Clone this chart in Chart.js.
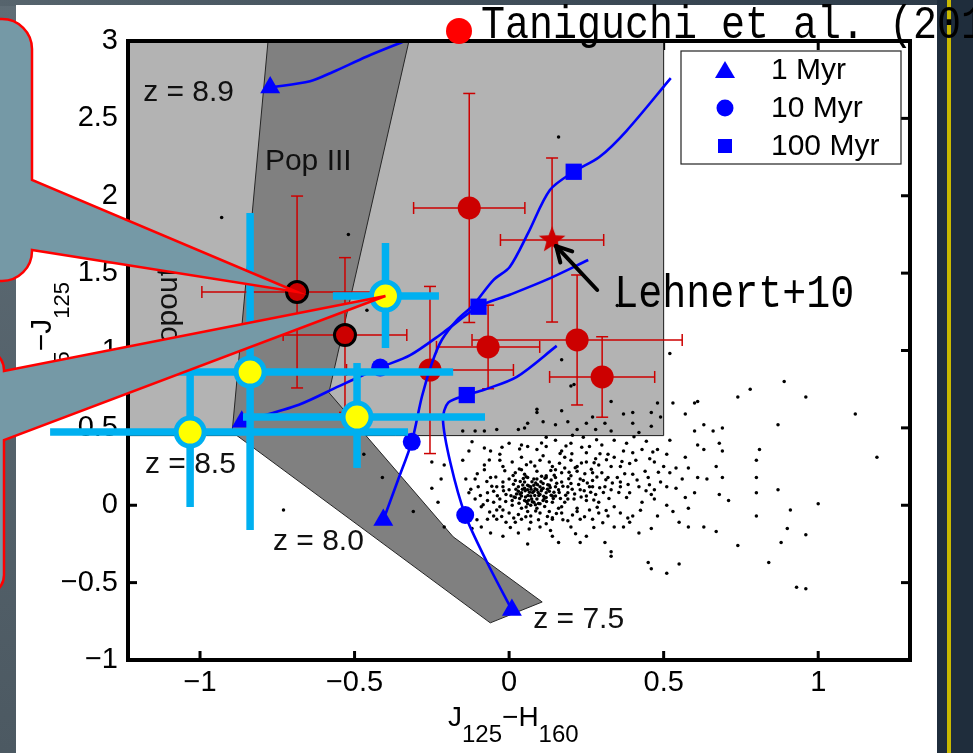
<!DOCTYPE html>
<html>
<head>
<meta charset="utf-8">
<script src="https://cdn.jsdelivr.net/npm/chart.js@4.4.1/dist/chart.umd.min.js"></script>
<style>
  html, body { margin: 0; padding: 0; overflow: hidden; background: #fff; }
  canvas { display: block; }
</style>
</head>
<body>
<canvas id="myChart" width="973" height="753"></canvas>
<script>
// axis ticks
const xTicks = [-1, -0.5, 0, 0.5, 1];
const yTicks = [-1, -0.5, 0, 0.5, 1, 1.5, 2, 2.5, 3];

// shaded selection regions
const dropoutBox = [[-1.233, 0.45], [0.5, 0.45], [0.5, 3], [-1.233, 3], [-1.233, 0.45]];
const popIIIBand = [[-0.78, 3], [-0.324, 3], [-0.583, 0.728], [-0.181, -0.204], [0.107, -0.625],
    [-0.061, -0.76], [-0.896, 0.473], [-0.78, 3]];

// model tracks (blue)
const trackZ89 = [[-0.773, 2.70], [-0.644, 2.74], [-0.57, 2.80], [-0.46, 2.90], [-0.337, 3.0]];
const trackZ85 = [[-0.865, 0.54], [-0.68, 0.65], [-0.55, 0.77], [-0.417, 0.89], [-0.32, 0.97],
    [-0.214, 1.115], [-0.099, 1.283], [0.002, 1.36], [0.12, 1.456], [0.256, 1.585]];
const trackZ80 = [[-0.407, -0.095], [-0.36, 0.16], [-0.315, 0.41], [-0.282, 0.703], [-0.25, 0.917],
    [-0.218, 1.068], [-0.169, 1.197], [-0.116, 1.294], [-0.051, 1.455], [0.002, 1.54], [0.061, 1.757],
    [0.132, 2.037], [0.209, 2.155], [0.292, 2.25], [0.38, 2.42], [0.523, 2.76]];
const trackZ75 = [[0.009, -0.677], [-0.071, -0.37], [-0.142, -0.063], [-0.19, 0.275], [-0.214, 0.553],
    [-0.197, 0.663], [-0.137, 0.712], [-0.083, 0.745], [0.025, 0.83], [0.154, 1.03]];
const age1Myr = [[-0.773, 2.70], [-0.865, 0.54], [-0.407, -0.095], [0.009, -0.677]];
const age10Myr = [[-0.417, 0.89], [-0.315, 0.41], [-0.142, -0.063]];
const age100Myr = [[-0.099, 1.283], [0.209, 2.155], [-0.137, 0.712]];

// red candidates with error bars
const redPts = [[-0.129, 1.921], [0.22, 1.068], [0.301, 0.829], [-0.068, 1.023], [-0.256, 0.874]];
const redXErr = [0.18, 0.34, 0.17, 0.167, 0.27];
const redYErr = [0.74, 0.42, 0.26, 0.27, 0.54];
const ringPts = [[-0.686, 1.378], [-0.531, 1.10]];
const ringXErr = [0.308, 0.2];
const ringYErr = [0.62, 0.5];
const lehnertPt = [[0.139, 1.714]];
const lehnertXErr = [0.167];
const lehnertYErr = [0.53];

// Taniguchi et al. objects (yellow, cyan ranges)
const newPts = [[-0.40, 1.352], [-0.838, 0.861], [-1.032, 0.473], [-0.492, 0.570]];
const newXLo = [-0.57, -1.47, -1.485, -0.861];
const newXHi = [-0.227, -0.181, -0.327, -0.078];
const newYLo = [1.016, -0.16, -0.011, 0.241];
const newYHi = [1.695, 1.889, 0.855, 0.919];

// field galaxies (black dots)
const fieldGalaxies = [
    [0.89, 0.80], [0.78, 0.75], [0.74, 0.70], [0.96, 0.70], [1.12, 0.59], [0.87, 0.52], [0.69, 0.50], [0.63, 0.52],
    [0.61, 0.67], [0.57, 0.59], [0.53, 0.66], [0.81, 0.36], [0.80, 0.29], [1.19, 0.31], [0.80, 0.18], [0.80, 0.08],
    [0.87, 0.10], [1.0, 0.01], [0.91, -0.03], [0.80, -0.07], [0.90, -0.15], [0.96, -0.19], [0.88, -0.24], [0.74, -0.26],
    [0.84, -0.37], [0.93, -0.53], [0.96, -0.54], [0.45, -0.37], [0.46, -0.41], [0.51, -0.44], [0.55, -0.38], [0.33, -0.30],
    [0.33, -0.33], [0.67, -0.17], [0.63, -0.14], [0.71, 0.03], [0.68, 0.07], [0.69, 0.18], [0.67, 0.25], [0.69, 0.35],
    [0.68, 0.40], [0.66, 0.48], [0.60, 0.48], [0.61, 0.39], [0.63, 0.36], [0.57, 0.31], [0.54, 0.24], [0.58, 0.24],
    [0.61, 0.18], [0.64, 0.17], [0.56, 0.17], [0.54, 0.11], [0.60, 0.08], [0.57, 0.05], [0.58, -0.02], [0.53, -0.04],
    [0.51, 0.00], [0.49, 0.15], [0.51, 0.12], [0.52, 0.21], [0.51, 0.33], [0.48, 0.36], [0.47, 0.28], [0.455, 0.30],
    [0.45, 0.18], [0.46, 0.07], [0.47, 0.04], [0.48, -0.07], [0.55, -0.11], [0.58, -0.14], [0.46, -0.15], [0.42, -0.18],
    [0.39, -0.11], [0.40, -0.07], [0.36, -0.05], [0.37, -0.14], [0.34, -0.14], [0.31, -0.24], [0.25, -0.20], [0.23, -0.24],
    [0.16, -0.24], [0.06, -0.25], [0.14, -0.20], [0.03, -0.18], [-0.02, -0.20], [-0.06, -0.18], [-0.09, -0.14], [-0.12, -0.15],
    [-0.07, -0.09], [-0.09, -0.01], [-0.13, 0.08], [-0.14, 0.17], [-0.15, 0.29], [-0.13, 0.35], [-0.12, 0.41], [-0.21, 0.26],
    [-0.25, 0.28], [-0.23, 0.02], [-0.25, 0.11], [-0.22, 0.17], [-0.11, 0.17], [-0.08, 0.23], [-0.06, 0.35], [-0.08, 0.37],
    [-0.03, 0.29], [0.00, 0.40], [0.04, 0.39], [0.06, 0.38], [0.09, 0.36], [0.12, 0.38], [0.12, 0.44], [0.15, 0.42],
    [0.17, 0.35], [0.20, 0.40], [0.24, 0.44], [0.26, 0.38], [0.30, 0.39], [0.34, 0.42], [0.38, 0.40], [0.37, 0.35],
    [0.34, 0.31], [0.32, 0.33], [0.36, 0.25], [0.39, 0.27], [0.41, 0.29], [0.43, 0.36], [0.40, 0.20], [0.42, 0.12],
    [0.39, 0.08], [0.36, 0.15], [0.33, 0.10], [0.32, 0.18], [0.27, 0.21], [0.29, 0.26], [0.25, 0.28], [0.22, 0.25],
    [0.20, 0.29], [0.17, 0.21], [0.23, 0.17], [0.27, 0.12], [0.25, 0.06], [0.29, 0.02], [0.34, -0.01], [0.32, -0.07],
    [0.27, -0.09], [0.23, -0.09], [0.20, -0.14], [0.17, -0.05], [0.22, -0.02], [0.26, -0.03], [0.19, 0.04], [0.14, -0.09],
    [0.10, -0.14], [0.07, -0.11], [0.04, -0.09], [-0.01, -0.11], [-0.04, -0.09], [-0.02, -0.03], [-0.05, 0.02], [-0.07, 0.08],
    [-0.04, 0.12], [-0.06, 0.18], [-0.02, 0.25], [0.01, 0.28], [0.04, 0.23], [0.07, 0.28], [0.10, 0.29], [0.13, 0.28],
    [0.15, 0.23], [0.12, 0.18], [0.09, 0.17], [0.06, 0.18], [0.00, 0.17], [-0.02, 0.12], [0.15, 0.12], [0.19, 0.12],
    [0.14, 0.06], [0.17, -0.01],
    [0.02, 0.05], [0.04, 0.08], [0.05, 0.03], [0.06, 0.10], [0.07, 0.06], [0.08, 0.09], [0.09, 0.04], [0.10, 0.07],
    [0.11, 0.11], [0.03, 0.12], [0.05, 0.15], [0.08, 0.13], [0.10, 0.01], [0.07, 0.00], [0.04, -0.02], [0.01, 0.00],
    [-0.01, 0.07], [0.00, 0.10], [0.12, 0.05], [0.13, 0.09], [0.14, 0.02], [0.06, -0.04], [0.09, -0.02], [0.11, 0.14],
    [0.02, 0.16], [-0.03, 0.04], [0.13, -0.04], [0.15, 0.06], [0.16, 0.10], [0.08, 0.17], [0.12, 0.19], [0.05, 0.20],
    [0.17, 0.15], [0.19, 0.08], [0.20, 0.14], [0.18, 0.02], [0.03, -0.06], [0.00, -0.05], [-0.04, -0.03], [0.07, -0.07],
    [0.10, -0.05], [0.14, -0.08], [0.16, -0.02], [0.21, 0.04], [0.23, 0.10], [0.24, 0.16], [0.22, 0.22], [0.18, 0.24],
    [0.14, 0.25], [0.09, 0.22], [0.02, 0.21], [-0.02, 0.15], [-0.05, 0.09], [-0.07, 0.03], [-0.03, -0.01], [0.06, 0.13],
    [0.09, 0.10], [0.04, 0.06], [0.11, 0.03], [0.07, 0.12], [0.13, 0.13], [0.01, 0.03], [0.08, 0.02], [0.12, 0.08],
    [0.03, 0.09], [0.06, 0.01], [0.10, 0.12], [0.05, 0.11], [0.15, 0.18], [0.20, 0.19], [0.26, 0.12], [0.28, 0.07],
    [0.27, 0.16], [0.30, 0.21], [0.31, 0.12], [0.25, 0.03], [0.29, -0.05], [0.22, -0.04], [0.35, 0.18], [0.33, 0.25],
    [0.28, 0.30], [0.25, 0.34], [0.18, 0.31], [0.11, 0.32], [0.04, 0.31], [-0.03, 0.33], [-0.08, 0.26], [-0.10, 0.12],
    [-0.11, 0.04], [-0.05, -0.07], [0.02, -0.11], [0.12, -0.12], [0.19, -0.10], [0.38, 0.05], [0.36, 0.12], [0.44, 0.22],
    [0.40, 0.34], [0.47, 0.10], [0.43, 0.02], [0.50, 0.25], [0.52, 0.42],
    [0.035, 0.072], [0.052, 0.094], [0.073, 0.041], [0.094, 0.083], [0.112, 0.058], [0.133, 0.114], [0.084, 0.107], [0.061, 0.063],
    [0.044, 0.131], [0.103, 0.152], [0.121, 0.024], [0.022, 0.104], [0.006, 0.061], [0.014, 0.135], [0.032, 0.013], [0.055, -0.012],
    [0.086, -0.037], [0.115, -0.008], [0.143, 0.044], [0.162, 0.083], [0.154, 0.142], [0.136, 0.163], [0.105, 0.187], [0.074, 0.152],
    [0.046, 0.173], [0.013, 0.192], [-0.018, 0.093], [-0.011, 0.024], [-0.038, 0.062], [-0.056, 0.123], [0.066, 0.084], [0.083, 0.063],
    [0.104, 0.093], [0.071, 0.104], [0.053, 0.054], [0.092, 0.133], [0.124, 0.103], [0.034, 0.043], [0.063, 0.032], [0.095, 0.012],
    [0.183, 0.064], [0.204, 0.103], [0.225, 0.134], [0.193, 0.172], [0.174, 0.123], [0.212, 0.073], [0.243, 0.094], [0.233, 0.053],
    [0.264, 0.084], [0.253, 0.143], [0.284, 0.183], [0.293, 0.113], [0.245, 0.204], [0.214, 0.243], [0.266, 0.232], [0.313, 0.164],
    [0.305, 0.083], [0.274, 0.034], [0.323, 0.043], [0.334, 0.143], [0.163, 0.272], [0.135, 0.224], [0.194, 0.213], [0.234, 0.273],
    [0.275, 0.274], [0.203, 0.332], [0.165, 0.334], [0.083, 0.253], [0.056, 0.262], [0.033, 0.234], [-0.014, 0.223], [-0.043, 0.183],
    [-0.072, 0.154], [-0.093, 0.063], [-0.084, 0.004], [-0.063, -0.043], [-0.024, -0.072], [0.015, -0.083], [0.054, -0.074], [0.095, -0.093],
    [0.124, -0.072], [0.153, -0.053], [0.174, -0.094], [0.205, -0.063], [0.244, -0.074], [0.285, -0.013], [0.314, -0.034], [0.355, 0.083],
    [0.374, 0.203], [0.385, 0.134], [0.414, 0.163], [0.443, 0.094], [0.425, -0.033], [0.384, -0.083], [0.365, 0.283], [0.315, 0.294],
    [0.294, 0.332], [0.235, 0.374], [0.184, 0.383], [0.105, 0.403], [0.034, 0.364], [-0.023, 0.374], [-0.064, 0.293], [-0.103, 0.204],
    [-0.124, 0.103], [-0.133, -0.043], [-0.104, -0.093], [0.004, -0.143], [0.065, -0.154], [0.134, -0.163], [0.215, -0.184], [0.274, -0.143],
    [0.303, -0.113], [0.454, 0.133], [0.483, 0.213], [0.465, 0.344], [0.444, 0.413], [0.404, 0.443], [0.283, 0.424], [0.205, 0.453],
    [0.076, 0.083], [0.043, 0.104], [0.114, 0.043], [0.085, 0.004], [0.024, 0.073], [0.125, 0.133], [0.064, 0.124], [0.106, 0.103],
    [0.145, 0.084], [0.056, 0.024], [0.096, 0.063], [0.075, 0.023], [0.036, 0.153], [0.136, 0.064], [0.166, 0.043], [0.016, 0.054],
    [0.086, 0.144], [0.116, 0.174], [0.055, 0.184], [0.146, 0.194],
    [-0.15, 0.48], [-0.11, 0.48], [-0.08, 0.48], [-0.04, 0.49], [0.03, 0.49], [0.05, 0.50], [0.06, 0.53], [0.09, 0.62],
    [0.09, 0.60], [0.11, 0.54], [0.15, 0.52], [0.17, 0.61], [0.19, 0.54], [0.22, 0.49], [0.25, 0.53], [0.27, 0.57],
    [0.28, 0.49], [0.31, 0.53], [0.33, 0.67], [0.33, 0.48], [0.37, 0.59], [0.40, 0.53], [0.40, 0.60], [0.42, 0.47],
    [0.46, 0.60], [0.46, 0.51], [0.48, 0.66], [0.49, 0.57], [0.20, 0.77], [0.21, 0.78], [0.17, 0.94], [0.60, 0.66],
    [0.35, 1.29], [0.52, 0.98], [0.16, 2.38], [-0.93, 1.86], [-0.52, 1.75], [-0.46, 1.26], [-0.73, -0.03], [-0.41, 0.18],
    [-0.47, 0.33], [-0.31, -0.04], [-0.21, -0.14]
];

// text annotations [text, x, y]
const zLabels = [['z = 8.9', -1.184, 2.612], ['z = 8.5', -1.178, 0.206], ['z = 8.0', -0.764, -0.289], ['z = 7.5', 0.078, -0.793]];
const popLabel = ['Pop III', -0.79, 2.166];
const dropLabel = ['Dropout', -1.074, 1.533];
const lehnertLabel = ['Lehnert+10', 0.34, 1.281];
const lehnertArrow = [[0.285, 1.391], [0.152, 1.675]];
const legendItems = ['1 Myr', '10 Myr', '100 Myr'];

const SANS = "'Liberation Sans', Arial, sans-serif";
const MONO = "'Liberation Mono', 'DejaVu Sans Mono', monospace";
const pts = arr => arr.map(p => ({ x: p[0], y: p[1] }));
const fmt = v => (v < 0 ? '\u2212' + String(-v) : String(v));

function makeStar(r, inner, color) {
    const c = document.createElement('canvas');
    c.width = c.height = 2 * r + 2;
    const g = c.getContext('2d');
    g.fillStyle = color;
    g.beginPath();
    for (let i = 0; i < 10; i++) {
        const a = -Math.PI / 2 + i * Math.PI / 5;
        const rr = i % 2 ? inner : r;
        g.lineTo(r + 1 + rr * Math.cos(a), r + 1 + rr * Math.sin(a));
    }
    g.closePath();
    g.fill();
    return c;
}
const starImg = makeStar(14, 6, '#cc0000');

function line(ctx, x0, y0, x1, y1) {
    ctx.beginPath();
    ctx.moveTo(x0, y0);
    ctx.lineTo(x1, y1);
    ctx.stroke();
}

function drawRedErrors(chart, ds) {
    const ctx = chart.ctx, xs = chart.scales.x, ys = chart.scales.y;
    ctx.save();
    ctx.strokeStyle = '#cc0000';
    ctx.lineWidth = 1.5;
    ds.data.forEach((p, i) => {
        const x = xs.getPixelForValue(p.x), y = ys.getPixelForValue(p.y);
        const xl = xs.getPixelForValue(p.x - ds.errX[i]), xr = xs.getPixelForValue(p.x + ds.errX[i]);
        const yt = ys.getPixelForValue(p.y + ds.errY[i]), yb = ys.getPixelForValue(p.y - ds.errY[i]);
        line(ctx, xl, y, xr, y);
        line(ctx, x, yt, x, yb);
        line(ctx, xl, y - 6, xl, y + 6);
        line(ctx, xr, y - 6, xr, y + 6);
        line(ctx, x - 6, yt, x + 6, yt);
        line(ctx, x - 6, yb, x + 6, yb);
    });
    ctx.restore();
}

function drawCyan(chart) {
    const ctx = chart.ctx, xs = chart.scales.x, ys = chart.scales.y;
    ctx.save();
    ctx.strokeStyle = '#00b0f0';
    ctx.lineWidth = 7.5;
    newPts.forEach((p, i) => {
        const x = xs.getPixelForValue(p[0]), y = ys.getPixelForValue(p[1]);
        line(ctx, xs.getPixelForValue(newXLo[i]), y, xs.getPixelForValue(newXHi[i]), y);
        line(ctx, x, ys.getPixelForValue(newYHi[i]), x, ys.getPixelForValue(newYLo[i]));
    });
    ctx.restore();
}

function drawFrame(chart) {
    const ctx = chart.ctx, a = chart.chartArea;
    ctx.save();
    ctx.strokeStyle = '#000';
    ctx.lineWidth = 4;
    ctx.strokeRect(a.left, a.top, a.right - a.left, a.bottom - a.top);
    ctx.restore();
}

function drawTicks(chart) {
    const ctx = chart.ctx, a = chart.chartArea, xs = chart.scales.x, ys = chart.scales.y;
    ctx.save();
    ctx.strokeStyle = '#000';
    ctx.lineWidth = 3;
    xTicks.forEach(v => {
        const x = xs.getPixelForValue(v);
        line(ctx, x, a.bottom, x, a.bottom - 9);
        line(ctx, x, a.top, x, a.top + 9);
    });
    yTicks.forEach(v => {
        const y = ys.getPixelForValue(v);
        line(ctx, a.left, y, a.left + 9, y);
        line(ctx, a.right, y, a.right - 9, y);
    });
    ctx.restore();
}

function drawRegionLabels(chart) {
    const ctx = chart.ctx, xs = chart.scales.x, ys = chart.scales.y;
    ctx.save();
    ctx.fillStyle = '#111';
    ctx.font = '30px ' + SANS;
    ctx.textBaseline = 'alphabetic';
    ctx.textAlign = 'left';
    zLabels.concat([popLabel]).forEach(t => {
        ctx.fillText(t[0], xs.getPixelForValue(t[1]), ys.getPixelForValue(t[2]));
    });
    ctx.translate(xs.getPixelForValue(dropLabel[1]), ys.getPixelForValue(dropLabel[2]));
    ctx.rotate(-Math.PI / 2);
    ctx.textAlign = 'right';
    ctx.fillText(dropLabel[0], 0, 0);
    ctx.restore();
}

function drawLegend(chart) {
    const ctx = chart.ctx, a = chart.chartArea;
    const L = a.right - 229, T = a.top + 10, W = 220, H = 113;
    ctx.save();
    ctx.fillStyle = '#fff';
    ctx.fillRect(L, T, W, H);
    ctx.strokeStyle = '#222';
    ctx.lineWidth = 1.2;
    ctx.strokeRect(L, T, W, H);
    ctx.fillStyle = '#0000ff';
    const mx = L + 44;
    let cy = T + 20;
    ctx.beginPath();
    ctx.moveTo(mx, cy - 10);
    ctx.lineTo(mx + 10, cy + 7);
    ctx.lineTo(mx - 10, cy + 7);
    ctx.closePath();
    ctx.fill();
    cy = T + 57;
    ctx.beginPath();
    ctx.arc(mx, cy, 8.5, 0, Math.PI * 2);
    ctx.fill();
    cy = T + 95;
    ctx.fillRect(mx - 7, cy - 7, 14, 14);
    ctx.fillStyle = '#000';
    ctx.font = '30px ' + SANS;
    ctx.textBaseline = 'middle';
    ctx.textAlign = 'left';
    legendItems.forEach((t, i) => ctx.fillText(t, L + 90, T + 20 + i * 38));
    ctx.restore();
}

function drawLehnert(chart) {
    const ctx = chart.ctx, xs = chart.scales.x, ys = chart.scales.y;
    const x0 = xs.getPixelForValue(lehnertArrow[0][0]), y0 = ys.getPixelForValue(lehnertArrow[0][1]);
    const x1 = xs.getPixelForValue(lehnertArrow[1][0]), y1 = ys.getPixelForValue(lehnertArrow[1][1]);
    ctx.save();
    ctx.strokeStyle = '#000';
    ctx.lineWidth = 4;
    ctx.lineCap = 'round';
    line(ctx, x0, y0, x1, y1);
    const ang = Math.atan2(y1 - y0, x1 - x0);
    [0.5, -0.5].forEach(d => {
        line(ctx, x1, y1, x1 - 17 * Math.cos(ang + d), y1 - 17 * Math.sin(ang + d));
    });
    ctx.fillStyle = '#000';
    ctx.font = '40px ' + MONO;
    ctx.textBaseline = 'alphabetic';
    ctx.translate(xs.getPixelForValue(lehnertLabel[1]), ys.getPixelForValue(lehnertLabel[2]));
    ctx.scale(1, 1.15);
    ctx.fillText(lehnertLabel[0], 0, 0);
    ctx.restore();
}

function drawRich(ctx, parts, x, y) {
    // parts: [text, fontSize, baselineShift]
    let cx = x;
    parts.forEach(p => {
        ctx.font = p[1] + 'px ' + SANS;
        ctx.fillText(p[0], cx, y + p[2]);
        cx += ctx.measureText(p[0]).width;
    });
}

function partsWidth(ctx, parts) {
    let w = 0;
    parts.forEach(p => {
        ctx.font = p[1] + 'px ' + SANS;
        w += ctx.measureText(p[0]).width;
    });
    return w;
}

function drawAxisTitles(chart) {
    const ctx = chart.ctx, a = chart.chartArea;
    ctx.save();
    ctx.fillStyle = '#000';
    ctx.textBaseline = 'alphabetic';
    ctx.textAlign = 'left';
    const xParts = [['J', 28, 0], ['125', 24, 16], ['\u2212H', 28, 0], ['160', 24, 16]];
    drawRich(ctx, xParts, 448, a.bottom + 66);
    const yParts = [['Y', 30, 0], ['105', 22, 18], ['\u2212J', 30, 0], ['125', 22, 18]];
    const w = partsWidth(ctx, yParts);
    ctx.translate(51, 345);
    ctx.rotate(-Math.PI / 2);
    drawRich(ctx, yParts, -w / 2, 0);
    ctx.restore();
}

function bubble(ctx, x0, x1, y0, y1, r, baseTop, baseBot, tx, ty) {
    ctx.beginPath();
    ctx.moveTo(x0, y0);
    ctx.lineTo(x1 - r, y0);
    ctx.arcTo(x1, y0, x1, y0 + r, r);
    ctx.lineTo(x1, baseTop);
    ctx.lineTo(tx, ty);
    ctx.lineTo(x1, baseBot);
    ctx.arcTo(x1, y1, x1 - r, y1, r);
    ctx.lineTo(x0, y1);
    ctx.closePath();
    ctx.fillStyle = '#7599a6';
    ctx.fill();
    ctx.strokeStyle = '#ff0000';
    ctx.lineWidth = 2.5;
    ctx.stroke();
}

const slidePlugin = {
    id: 'slide',
    beforeDraw(chart) {
        const ctx = chart.ctx, W = chart.width, H = chart.height;
        ctx.save();
        const lg = ctx.createLinearGradient(0, 0, 0, H);
        lg.addColorStop(0, '#5f6d76');
        lg.addColorStop(1, '#4c5962');
        ctx.fillStyle = lg;
        ctx.fillRect(0, 0, W, H);
        const tg = ctx.createLinearGradient(0, 0, W, 0);
        tg.addColorStop(0, '#56646d');
        tg.addColorStop(1, '#2b3947');
        ctx.fillStyle = tg;
        ctx.fillRect(0, 0, W, 6);
        ctx.fillStyle = '#1f2d3c';
        ctx.fillRect(937, 0, W - 937, H);
        ctx.fillStyle = '#c8b800';
        ctx.fillRect(947, 0, 4, H);
        ctx.fillStyle = '#fff';
        ctx.fillRect(16, 5, 921, H - 5);
        ctx.restore();
    },
    beforeDatasetsDraw(chart) {
        drawTicks(chart);
    },
    beforeDatasetDraw(chart, args) {
        const ds = chart.data.datasets[args.index];
        if (ds.errX) drawRedErrors(chart, ds);
        if (ds.label === 'Taniguchi') {
            drawFrame(chart);
            drawCyan(chart);
        }
    },
    afterDatasetDraw(chart, args) {
        const ds = chart.data.datasets[args.index];
        if (ds.label === 'Pop III') drawRegionLabels(chart);
    },
    afterDatasetsDraw(chart) {
        drawLegend(chart);
        drawLehnert(chart);
    },
    afterDraw(chart) {
        const ctx = chart.ctx, xs = chart.scales.x, ys = chart.scales.y;
        drawAxisTitles(chart);
        ctx.save();
        bubble(ctx, -40, 32, 19, 281, 30, 180, 250,
            xs.getPixelForValue(ringPts[0][0]), ys.getPixelForValue(ringPts[0][1]));
        bubble(ctx, -60, 4, 350, 595, 20, 371, 440,
            xs.getPixelForValue(newPts[0][0]), ys.getPixelForValue(newPts[0][1]));
        // title
        ctx.fillStyle = '#ff0000';
        ctx.beginPath();
        ctx.arc(459, 31, 13, 0, Math.PI * 2);
        ctx.fill();
        ctx.fillStyle = '#000';
        ctx.font = '40px ' + MONO;
        ctx.textBaseline = 'alphabetic';
        ctx.translate(481, 38);
        ctx.scale(1, 1.15);
        ctx.fillText('Taniguchi et al. (2014)', 0, 0);
        ctx.restore();
    }
};

const trackStyle = {
    type: 'line', borderColor: '#0000ff', borderWidth: 2.6, pointRadius: 0,
    tension: 0.3, fill: false, order: 70
};

const config = {
    type: 'scatter',
    data: {
        datasets: [
            { type: 'line', label: 'Dropout box', data: pts(dropoutBox), fill: 'shape', backgroundColor: '#b3b3b3',
              borderColor: '#1a1a1a', borderWidth: 1, pointRadius: 0, tension: 0, order: 100 },
            { type: 'line', label: 'Pop III', data: pts(popIIIBand), fill: 'shape', backgroundColor: '#808080',
              borderColor: '#262626', borderWidth: 1, pointRadius: 0, tension: 0, order: 90 },
            { label: 'field', data: pts(fieldGalaxies), pointRadius: 1.75, backgroundColor: '#000', borderWidth: 0, order: 80 },
            { label: 'red', data: pts(redPts), errX: redXErr, errY: redYErr, pointRadius: 11.5,
              backgroundColor: '#cc0000', borderWidth: 0, order: 77 },
            { label: 'ring', data: pts(ringPts), errX: ringXErr, errY: ringYErr, pointRadius: 10.5,
              backgroundColor: '#cc0000', borderColor: '#000', borderWidth: 3, order: 76 },
            { label: 'Lehnert', data: pts(lehnertPt), errX: lehnertXErr, errY: lehnertYErr, pointStyle: starImg,
              order: 75 },
            Object.assign({ label: 'z8.9', data: pts(trackZ89) }, trackStyle),
            Object.assign({ label: 'z8.5', data: pts(trackZ85) }, trackStyle),
            Object.assign({ label: 'z8.0', data: pts(trackZ80) }, trackStyle),
            Object.assign({ label: 'z7.5', data: pts(trackZ75) }, trackStyle),
            { label: '1 Myr', data: pts(age1Myr), pointStyle: 'triangle', pointRadius: 11.5,
              backgroundColor: '#0000ff', borderWidth: 0, order: 60 },
            { label: '10 Myr', data: pts(age10Myr), pointStyle: 'circle', pointRadius: 9,
              backgroundColor: '#0000ff', borderWidth: 0, order: 60 },
            { label: '100 Myr', data: pts(age100Myr), pointStyle: 'rect', pointRadius: 11.5,
              backgroundColor: '#0000ff', borderWidth: 0, order: 60 },
            { label: 'Taniguchi', data: pts(newPts), pointRadius: 14, backgroundColor: '#ffff00',
              borderColor: '#00b0f0', borderWidth: 5, clip: false, order: 10 }
        ]
    },
    options: {
        responsive: false,
        animation: false,
        events: [],
        layout: { padding: { left: 0, right: 63, top: 41, bottom: 0 } },
        plugins: { legend: { display: false }, tooltip: { enabled: false } },
        scales: {
            x: {
                type: 'linear', min: -1.233, max: 1.297,
                afterBuildTicks: axis => { axis.ticks = xTicks.map(v => ({ value: v })); },
                afterFit: axis => { axis.height = 93; },
                grid: { display: false, drawTicks: false },
                border: { display: false },
                ticks: { callback: fmt, color: '#000', font: { family: SANS, size: 29 }, padding: 6,
                         maxRotation: 0, autoSkip: false }
            },
            y: {
                type: 'linear', min: -1, max: 3,
                afterBuildTicks: axis => { axis.ticks = yTicks.map(v => ({ value: v })); },
                afterFit: axis => { axis.width = 128; },
                grid: { display: false, drawTicks: false },
                border: { display: false },
                ticks: { callback: fmt, color: '#000', font: { family: SANS, size: 29 }, padding: 10,
                         autoSkip: false }
            }
        }
    },
    plugins: [slidePlugin]
};

var myChart = new Chart(document.getElementById('myChart'), config);
</script>
</body>
</html>
